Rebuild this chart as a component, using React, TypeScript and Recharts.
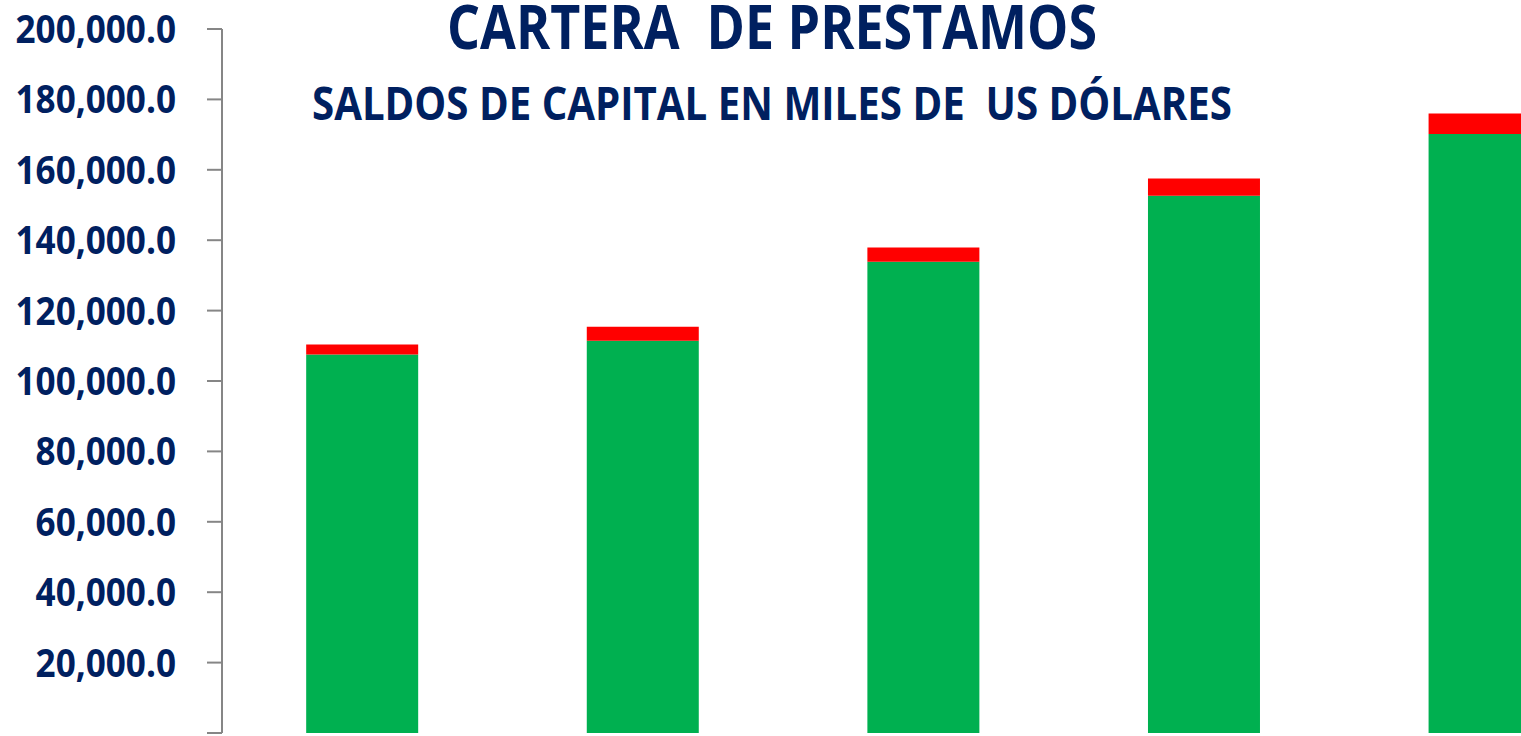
import { BarChart, Bar, XAxis, YAxis } from "recharts";

const periods = ["P1", "P2", "P3", "P4", "P5"];
const vigente = [107500, 111400, 133900, 152600, 170200];
const vencida = [2900, 4000, 4000, 4900, 5800];
const yTicks = [0, 20000, 40000, 60000, 80000, 100000, 120000, 140000, 160000, 180000, 200000];

const title = "CARTERA  DE PRESTAMOS";
const subtitle = "SALDOS DE CAPITAL EN MILES DE  US DÓLARES";

const data = periods.map((p, i) => ({ name: p, vigente: vigente[i], vencida: vencida[i] }));

const navy = "#002060";
const fontFamily = "'Open Sans', sans-serif";

const fmt = (v: number) =>
  v.toLocaleString("en-US", { minimumFractionDigits: 1, maximumFractionDigits: 1 });

// the 0 label sits below the visible area in the original, so it is left out
function YTick(props: any) {
  const { x, y, payload } = props;
  if (payload.value === 0) return null;
  return (
    <text
      transform={`translate(${x},${y + 14}) scale(0.9,1)`}
      textAnchor="end"
      fill={navy}
      fontFamily={fontFamily}
      fontWeight={700}
      fontSize={39}
    >
      {fmt(payload.value)}
    </text>
  );
}

export default function App() {
  return (
    <div
      style={{
        position: "fixed",
        left: 0,
        top: 0,
        width: 1521,
        height: 736,
        overflow: "hidden",
        background: "#fff",
      }}
    >
      <BarChart
        width={1625}
        height={760}
        data={data}
        margin={{ top: 29, right: 0, bottom: 27, left: 0 }}
        barCategoryGap="30%"
      >
        <XAxis dataKey="name" hide />
        <YAxis
          width={222}
          domain={[0, 200000]}
          ticks={yTicks}
          interval={0}
          tickSize={15}
          tickMargin={31}
          stroke="#868686"
          strokeWidth={2}
          tick={<YTick />}
        />
        <Bar dataKey="vigente" stackId="a" fill="#00B050" isAnimationActive={false} />
        <Bar dataKey="vencida" stackId="a" fill="#FF0000" isAnimationActive={false} />
      </BarChart>
      <svg
        width={1521}
        height={140}
        style={{ position: "absolute", left: 0, top: 0, pointerEvents: "none" }}
      >
        <text
          x={447}
          y={49}
          textLength={650}
          lengthAdjust="spacingAndGlyphs"
          fill={navy}
          fontFamily={fontFamily}
          fontWeight={700}
          fontSize={61}
          style={{ whiteSpace: "pre" }}
        >
          {title}
        </text>
        <text
          x={312}
          y={120}
          textLength={920}
          lengthAdjust="spacingAndGlyphs"
          fill={navy}
          fontFamily={fontFamily}
          fontWeight={700}
          fontSize={47}
          style={{ whiteSpace: "pre" }}
        >
          {subtitle}
        </text>
      </svg>
    </div>
  );
}
